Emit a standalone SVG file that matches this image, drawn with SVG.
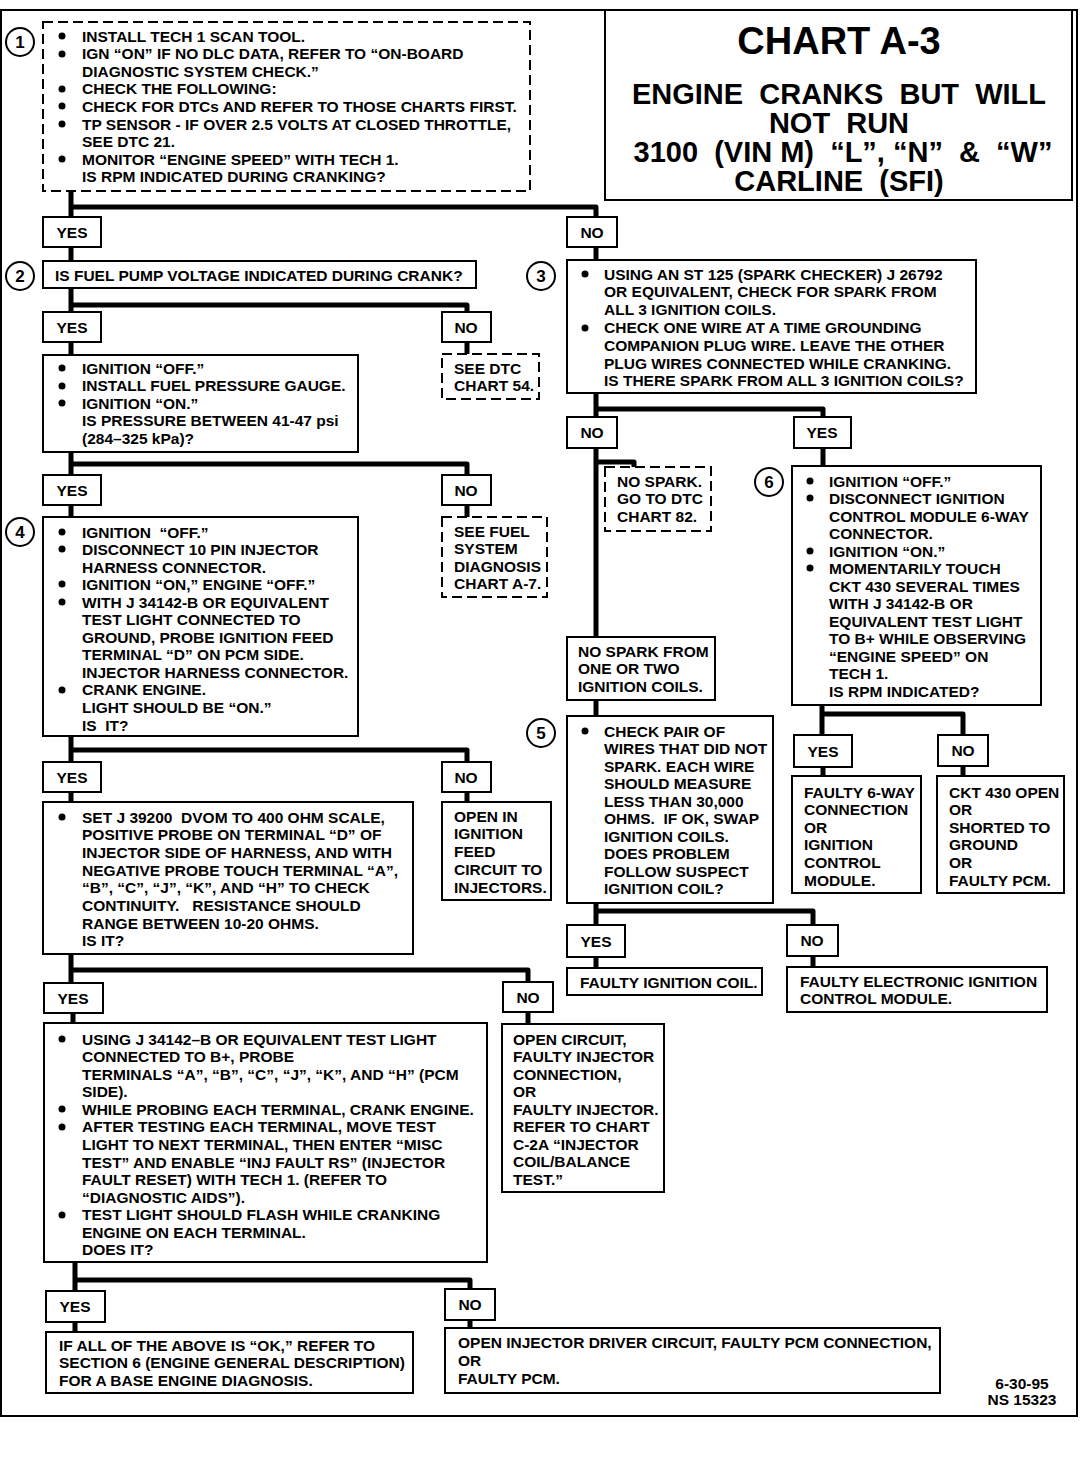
<svg xmlns="http://www.w3.org/2000/svg" width="1088" height="1472" viewBox="0 0 1088 1472" xml:space="preserve">
<style>
text{white-space:pre}
.bx{fill:#fff;stroke:#000;stroke-width:2}
.ds{fill:#fff;stroke:#000;stroke-width:2;stroke-dasharray:10 5}
.t{font-family:'Liberation Sans',Arial,Helvetica,sans-serif;font-weight:bold;font-size:15.5px;fill:#000}
.lb{font-family:'Liberation Sans',Arial,Helvetica,sans-serif;font-weight:bold;font-size:15.5px;fill:#000;text-anchor:middle}
.ti{font-family:'Liberation Sans',Arial,Helvetica,sans-serif;font-weight:bold;fill:#000;text-anchor:middle}
.cn{fill:#fff;stroke:#000;stroke-width:2}
.num{font-family:'Liberation Sans',Arial,sans-serif;font-weight:bold;font-size:17px;text-anchor:middle}
.w{fill:none;stroke:#000;stroke-width:5;stroke-linejoin:round;stroke-linecap:butt}
</style>
<rect x="1" y="10" width="1076" height="1406" fill="#fff" stroke="#000" stroke-width="2"/>

<g id="connectors">
<path class="w" d="M71 191V217M71 207H596V217"/>
<path class="w" d="M71 247V261"/>
<path class="w" d="M596 247V260"/>
<path class="w" d="M71 288V312M71 305H467V312"/>
<path class="w" d="M71 342V355M467 342V354"/>
<path class="w" d="M71 452V475M71 464H467V475"/>
<path class="w" d="M71 505V517M467 505V517"/>
<path class="w" d="M71 736V762M71 750H467V762"/>
<path class="w" d="M71 792V802M467 792V802"/>
<path class="w" d="M71 954V983M71 970H528V982"/>
<path class="w" d="M73 1013V1023M528 1012V1024"/>
<path class="w" d="M75 1262V1291M75 1280H470V1289"/>
<path class="w" d="M75 1322V1332M470 1320V1328"/>
<path class="w" d="M596 393V417M596 409H823V417"/>
<path class="w" d="M823 448V466"/>
<path class="w" d="M596 448V637M596 462H634V467"/>
<path class="w" d="M596 700V716"/>
<path class="w" d="M596 903V925M596 911H813V925"/>
<path class="w" d="M596 957V968M813 956V967"/>
<path class="w" d="M822 705V735M822 714H963V735"/>
<path class="w" d="M823 767V776M963 766V776"/>
</g>

<g id="title">
<rect class="bx" x="605" y="10" width="467" height="190"/>
<text class="ti" x="839" y="54" font-size="38">CHART A-3</text>
<text class="ti" x="839" y="104" font-size="29">ENGINE  CRANKS  BUT  WILL</text>
<text class="ti" x="839" y="133" font-size="29">NOT  RUN</text>
<text class="ti" x="843" y="162" font-size="29">3100  (VIN M)  “L”, “N”  &amp;  “W”</text>
<text class="ti" x="839" y="191" font-size="29">CARLINE  (SFI)</text>
</g>

<g id="step1">
<circle class="cn" cx="20" cy="42" r="14"/><text class="num" x="20" y="48">1</text>
<rect class="ds" x="43" y="22" width="487" height="169"/>
<g fill="#000"><circle cx="62" cy="36" r="3.5"/><circle cx="62" cy="54" r="3.5"/><circle cx="62" cy="89" r="3.5"/><circle cx="62" cy="106" r="3.5"/><circle cx="62" cy="124" r="3.5"/><circle cx="62" cy="159" r="3.5"/></g>
<text class="t"><tspan x="82" y="41.5">INSTALL TECH 1 SCAN TOOL.</tspan><tspan x="82" dy="17.6">IGN “ON” IF NO DLC DATA, REFER TO “ON-BOARD</tspan><tspan x="82" dy="17.6">DIAGNOSTIC SYSTEM CHECK.”</tspan><tspan x="82" dy="17.6">CHECK THE FOLLOWING:</tspan><tspan x="82" dy="17.6">CHECK FOR DTCs AND REFER TO THOSE CHARTS FIRST.</tspan><tspan x="82" dy="17.6">TP SENSOR - IF OVER 2.5 VOLTS AT CLOSED THROTTLE,</tspan><tspan x="82" dy="17.6">SEE DTC 21.</tspan><tspan x="82" dy="17.6">MONITOR “ENGINE SPEED” WITH TECH 1.</tspan><tspan x="82" dy="17.6">IS RPM INDICATED DURING CRANKING?</tspan></text>
</g>

<g id="yes1"><rect class="bx" x="43" y="217" width="58" height="30"/><text class="lb" x="72" y="237.5">YES</text></g>
<g id="no1"><rect class="bx" x="567" y="217" width="50" height="30"/><text class="lb" x="592" y="237.5">NO</text></g>

<g id="step2">
<circle class="cn" cx="20" cy="276" r="14"/><text class="num" x="20" y="282">2</text>
<rect class="bx" x="43" y="261" width="433" height="27"/>
<text class="t" x="55" y="280.5">IS FUEL PUMP VOLTAGE INDICATED DURING CRANK?</text>
</g>

<g id="yes2"><rect class="bx" x="43" y="312" width="58" height="30"/><text class="lb" x="72" y="332.5">YES</text></g>
<g id="no2"><rect class="bx" x="442" y="312" width="49" height="30"/><text class="lb" x="466" y="332.5">NO</text></g>

<g id="pressure">
<rect class="bx" x="43" y="355" width="315" height="97"/>
<g fill="#000"><circle cx="62" cy="368" r="3.5"/><circle cx="62" cy="386" r="3.5"/><circle cx="62" cy="403" r="3.5"/></g>
<text class="t"><tspan x="82" y="373.5">IGNITION “OFF.”</tspan><tspan x="82" dy="17.5">INSTALL FUEL PRESSURE GAUGE.</tspan><tspan x="82" dy="17.5">IGNITION “ON.”</tspan><tspan x="82" dy="17.5">IS PRESSURE BETWEEN 41-47 psi</tspan><tspan x="82" dy="17.5">(284–325 kPa)?</tspan></text>
</g>

<g id="dtc54">
<rect class="ds" x="442" y="354" width="97" height="45"/>
<text class="t"><tspan x="454" y="373.5">SEE DTC</tspan><tspan x="454" dy="17.6">CHART 54.</tspan></text>
</g>

<g id="yes3"><rect class="bx" x="43" y="475" width="58" height="30"/><text class="lb" x="72" y="495.5">YES</text></g>
<g id="no3"><rect class="bx" x="442" y="475" width="49" height="30"/><text class="lb" x="466" y="495.5">NO</text></g>

<g id="step4">
<circle class="cn" cx="20" cy="532" r="14"/><text class="num" x="20" y="538">4</text>
<rect class="bx" x="43" y="517" width="315" height="219"/>
<g fill="#000"><circle cx="62" cy="532" r="3.5"/><circle cx="62" cy="549" r="3.5"/><circle cx="62" cy="584" r="3.5"/><circle cx="62" cy="602" r="3.5"/><circle cx="62" cy="690" r="3.5"/></g>
<text class="t"><tspan x="82" y="537.5">IGNITION  “OFF.”</tspan><tspan x="82" dy="17.55">DISCONNECT 10 PIN INJECTOR</tspan><tspan x="82" dy="17.55">HARNESS CONNECTOR.</tspan><tspan x="82" dy="17.55">IGNITION “ON,” ENGINE “OFF.”</tspan><tspan x="82" dy="17.55">WITH J 34142-B OR EQUIVALENT</tspan><tspan x="82" dy="17.55">TEST LIGHT CONNECTED TO</tspan><tspan x="82" dy="17.55">GROUND, PROBE IGNITION FEED</tspan><tspan x="82" dy="17.55">TERMINAL “D” ON PCM SIDE.</tspan><tspan x="82" dy="17.55">INJECTOR HARNESS CONNECTOR.</tspan><tspan x="82" dy="17.55">CRANK ENGINE.</tspan><tspan x="82" dy="17.55">LIGHT SHOULD BE “ON.”</tspan><tspan x="82" dy="17.55">IS  IT?</tspan></text>
</g>

<g id="chartA7">
<rect class="ds" x="442" y="517" width="105" height="80"/>
<text class="t"><tspan x="454" y="536.5">SEE FUEL</tspan><tspan x="454" dy="17.6">SYSTEM</tspan><tspan x="454" dy="17.6">DIAGNOSIS</tspan><tspan x="454" dy="17.6">CHART A-7.</tspan></text>
</g>

<g id="yes4"><rect class="bx" x="43" y="762" width="58" height="30"/><text class="lb" x="72" y="782.5">YES</text></g>
<g id="no4"><rect class="bx" x="442" y="762" width="49" height="30"/><text class="lb" x="466" y="782.5">NO</text></g>

<g id="dvom">
<rect class="bx" x="43" y="802" width="370" height="152"/>
<circle cx="62" cy="817" r="3.5" fill="#000"/>
<text class="t"><tspan x="82" y="822.5">SET J 39200  DVOM TO 400 OHM SCALE,</tspan><tspan x="82" dy="17.7">POSITIVE PROBE ON TERMINAL “D” OF</tspan><tspan x="82" dy="17.7">INJECTOR SIDE OF HARNESS, AND WITH</tspan><tspan x="82" dy="17.7">NEGATIVE PROBE TOUCH TERMINAL “A”,</tspan><tspan x="82" dy="17.7">“B”, “C”, “J”, “K”, AND “H” TO CHECK</tspan><tspan x="82" dy="17.7">CONTINUITY.   RESISTANCE SHOULD</tspan><tspan x="82" dy="17.7">RANGE BETWEEN 10-20 OHMS.</tspan><tspan x="82" dy="17.7">IS IT?</tspan></text>
</g>

<g id="openfeed">
<rect class="bx" x="442" y="802" width="109" height="98"/>
<text class="t"><tspan x="454" y="821.5">OPEN IN</tspan><tspan x="454" dy="17.8">IGNITION</tspan><tspan x="454" dy="17.8">FEED</tspan><tspan x="454" dy="17.8">CIRCUIT TO</tspan><tspan x="454" dy="17.8">INJECTORS.</tspan></text>
</g>

<g id="yes5"><rect class="bx" x="44" y="983" width="59" height="30"/><text class="lb" x="73" y="1003.5">YES</text></g>
<g id="no5"><rect class="bx" x="503" y="982" width="50" height="30"/><text class="lb" x="528" y="1002.5">NO</text></g>

<g id="testlight">
<rect class="bx" x="44" y="1023" width="443" height="239"/>
<g fill="#000"><circle cx="62" cy="1039" r="3.5"/><circle cx="62" cy="1109" r="3.5"/><circle cx="62" cy="1127" r="3.5"/><circle cx="62" cy="1215" r="3.5"/></g>
<text class="t"><tspan x="82" y="1044.5">USING J 34142–B OR EQUIVALENT TEST LIGHT</tspan><tspan x="82" dy="17.58">CONNECTED TO B+, PROBE</tspan><tspan x="82" dy="17.58">TERMINALS “A”, “B”, “C”, “J”, “K”, AND “H” (PCM</tspan><tspan x="82" dy="17.58">SIDE).</tspan><tspan x="82" dy="17.58">WHILE PROBING EACH TERMINAL, CRANK ENGINE.</tspan><tspan x="82" dy="17.58">AFTER TESTING EACH TERMINAL, MOVE TEST</tspan><tspan x="82" dy="17.58">LIGHT TO NEXT TERMINAL, THEN ENTER “MISC</tspan><tspan x="82" dy="17.58">TEST” AND ENABLE “INJ FAULT RS” (INJECTOR</tspan><tspan x="82" dy="17.58">FAULT RESET) WITH TECH 1. (REFER TO</tspan><tspan x="82" dy="17.58">“DIAGNOSTIC AIDS”).</tspan><tspan x="82" dy="17.58">TEST LIGHT SHOULD FLASH WHILE CRANKING</tspan><tspan x="82" dy="17.58">ENGINE ON EACH TERMINAL.</tspan><tspan x="82" dy="17.58">DOES IT?</tspan></text>
</g>

<g id="opencircuit">
<rect class="bx" x="502" y="1024" width="162" height="168"/>
<text class="t"><tspan x="513" y="1044.5">OPEN CIRCUIT,</tspan><tspan x="513" dy="17.5">FAULTY INJECTOR</tspan><tspan x="513" dy="17.5">CONNECTION,</tspan><tspan x="513" dy="17.5">OR</tspan><tspan x="513" dy="17.5">FAULTY INJECTOR.</tspan><tspan x="513" dy="17.5">REFER TO CHART</tspan><tspan x="513" dy="17.5">C-2A “INJECTOR</tspan><tspan x="513" dy="17.5">COIL/BALANCE</tspan><tspan x="513" dy="17.5">TEST.”</tspan></text>
</g>

<g id="yes6"><rect class="bx" x="46" y="1291" width="59" height="31"/><text class="lb" x="75" y="1312">YES</text></g>
<g id="no6"><rect class="bx" x="445" y="1289" width="50" height="31"/><text class="lb" x="470" y="1310">NO</text></g>

<g id="baseengine">
<rect class="bx" x="46" y="1332" width="367" height="61"/>
<text class="t"><tspan x="59" y="1350.5">IF ALL OF THE ABOVE IS “OK,” REFER TO</tspan><tspan x="59" dy="17.6">SECTION 6 (ENGINE GENERAL DESCRIPTION)</tspan><tspan x="59" dy="17.6">FOR A BASE ENGINE DIAGNOSIS.</tspan></text>
</g>

<g id="driver">
<rect class="bx" x="445" y="1328" width="495" height="65"/>
<text class="t"><tspan x="458" y="1347.5">OPEN INJECTOR DRIVER CIRCUIT, FAULTY PCM CONNECTION,</tspan><tspan x="458" dy="18.2">OR</tspan><tspan x="458" dy="18.2">FAULTY PCM.</tspan></text>
</g>

<g id="step3">
<circle class="cn" cx="541" cy="276" r="14"/><text class="num" x="541" y="282">3</text>
<rect class="bx" x="567" y="260" width="409" height="133"/>
<g fill="#000"><circle cx="585" cy="274" r="3.5"/><circle cx="585" cy="328" r="3.5"/></g>
<text class="t"><tspan x="604" y="279.5">USING AN ST 125 (SPARK CHECKER) J 26792</tspan><tspan x="604" dy="17.83">OR EQUIVALENT, CHECK FOR SPARK FROM</tspan><tspan x="604" dy="17.83">ALL 3 IGNITION COILS.</tspan><tspan x="604" dy="17.83">CHECK ONE WIRE AT A TIME GROUNDING</tspan><tspan x="604" dy="17.83">COMPANION PLUG WIRE. LEAVE THE OTHER</tspan><tspan x="604" dy="17.83">PLUG WIRES CONNECTED WHILE CRANKING.</tspan><tspan x="604" dy="17.83">IS THERE SPARK FROM ALL 3 IGNITION COILS?</tspan></text>
</g>

<g id="no7"><rect class="bx" x="567" y="417" width="50" height="31"/><text class="lb" x="592" y="438">NO</text></g>
<g id="yes7"><rect class="bx" x="794" y="417" width="57" height="31"/><text class="lb" x="822" y="438">YES</text></g>

<g id="dtc82">
<rect class="ds" x="605" y="467" width="106" height="64"/>
<text class="t"><tspan x="617" y="486.5">NO SPARK.</tspan><tspan x="617" dy="17.6">GO TO DTC</tspan><tspan x="617" dy="17.6">CHART 82.</tspan></text>
</g>

<g id="nospark">
<rect class="bx" x="567" y="637" width="148" height="63"/>
<text class="t"><tspan x="578" y="656.5">NO SPARK FROM</tspan><tspan x="578" dy="17.6">ONE OR TWO</tspan><tspan x="578" dy="17.6">IGNITION COILS.</tspan></text>
</g>

<g id="step5">
<circle class="cn" cx="541" cy="733" r="14"/><text class="num" x="541" y="739">5</text>
<rect class="bx" x="567" y="716" width="206" height="187"/>
<circle cx="585" cy="731" r="3.5" fill="#000"/>
<text class="t"><tspan x="604" y="736.5">CHECK PAIR OF</tspan><tspan x="604" dy="17.55">WIRES THAT DID NOT</tspan><tspan x="604" dy="17.55">SPARK. EACH WIRE</tspan><tspan x="604" dy="17.55">SHOULD MEASURE</tspan><tspan x="604" dy="17.55">LESS THAN 30,000</tspan><tspan x="604" dy="17.55">OHMS.  IF OK, SWAP</tspan><tspan x="604" dy="17.55">IGNITION COILS.</tspan><tspan x="604" dy="17.55">DOES PROBLEM</tspan><tspan x="604" dy="17.55">FOLLOW SUSPECT</tspan><tspan x="604" dy="17.55">IGNITION COIL?</tspan></text>
</g>

<g id="yes8"><rect class="bx" x="567" y="925" width="58" height="32"/><text class="lb" x="596" y="946.5">YES</text></g>
<g id="no8"><rect class="bx" x="787" y="925" width="51" height="31"/><text class="lb" x="812" y="946">NO</text></g>

<g id="faultycoil">
<rect class="bx" x="567" y="968" width="195" height="27"/>
<text class="t" x="580" y="987.5">FAULTY IGNITION COIL.</text>
</g>

<g id="faultyecm">
<rect class="bx" x="787" y="967" width="260" height="45"/>
<text class="t"><tspan x="800" y="986.5">FAULTY ELECTRONIC IGNITION</tspan><tspan x="800" dy="17.2">CONTROL MODULE.</tspan></text>
</g>

<g id="step6">
<circle class="cn" cx="769" cy="482" r="14"/><text class="num" x="769" y="488">6</text>
<rect class="bx" x="792" y="466" width="249" height="239"/>
<g fill="#000"><circle cx="810" cy="481" r="3.5"/><circle cx="810" cy="498" r="3.5"/><circle cx="810" cy="551" r="3.5"/><circle cx="810" cy="568" r="3.5"/></g>
<text class="t"><tspan x="829" y="486.5">IGNITION “OFF.”</tspan><tspan x="829" dy="17.5">DISCONNECT IGNITION</tspan><tspan x="829" dy="17.5">CONTROL MODULE 6-WAY</tspan><tspan x="829" dy="17.5">CONNECTOR.</tspan><tspan x="829" dy="17.5">IGNITION “ON.”</tspan><tspan x="829" dy="17.5">MOMENTARILY TOUCH</tspan><tspan x="829" dy="17.5">CKT 430 SEVERAL TIMES</tspan><tspan x="829" dy="17.5">WITH J 34142-B OR</tspan><tspan x="829" dy="17.5">EQUIVALENT TEST LIGHT</tspan><tspan x="829" dy="17.5">TO B+ WHILE OBSERVING</tspan><tspan x="829" dy="17.5">“ENGINE SPEED” ON</tspan><tspan x="829" dy="17.5">TECH 1.</tspan><tspan x="829" dy="17.5">IS RPM INDICATED?</tspan></text>
</g>

<g id="yes9"><rect class="bx" x="794" y="735" width="58" height="32"/><text class="lb" x="823" y="756.5">YES</text></g>
<g id="no9"><rect class="bx" x="938" y="735" width="50" height="31"/><text class="lb" x="963" y="756">NO</text></g>

<g id="faulty6way">
<rect class="bx" x="792" y="776" width="129" height="117"/>
<text class="t"><tspan x="804" y="797.5">FAULTY 6-WAY</tspan><tspan x="804" dy="17.6">CONNECTION</tspan><tspan x="804" dy="17.6">OR</tspan><tspan x="804" dy="17.6">IGNITION</tspan><tspan x="804" dy="17.6">CONTROL</tspan><tspan x="804" dy="17.6">MODULE.</tspan></text>
</g>

<g id="ckt430">
<rect class="bx" x="937" y="776" width="127" height="117"/>
<text class="t"><tspan x="949" y="797.5">CKT 430 OPEN</tspan><tspan x="949" dy="17.6">OR</tspan><tspan x="949" dy="17.6">SHORTED TO</tspan><tspan x="949" dy="17.6">GROUND</tspan><tspan x="949" dy="17.6">OR</tspan><tspan x="949" dy="17.6">FAULTY PCM.</tspan></text>
</g>

<g id="footer">
<text class="lb" x="1022" y="1389">6-30-95</text>
<text class="lb" x="1022" y="1405">NS 15323</text>
</g>
</svg>
